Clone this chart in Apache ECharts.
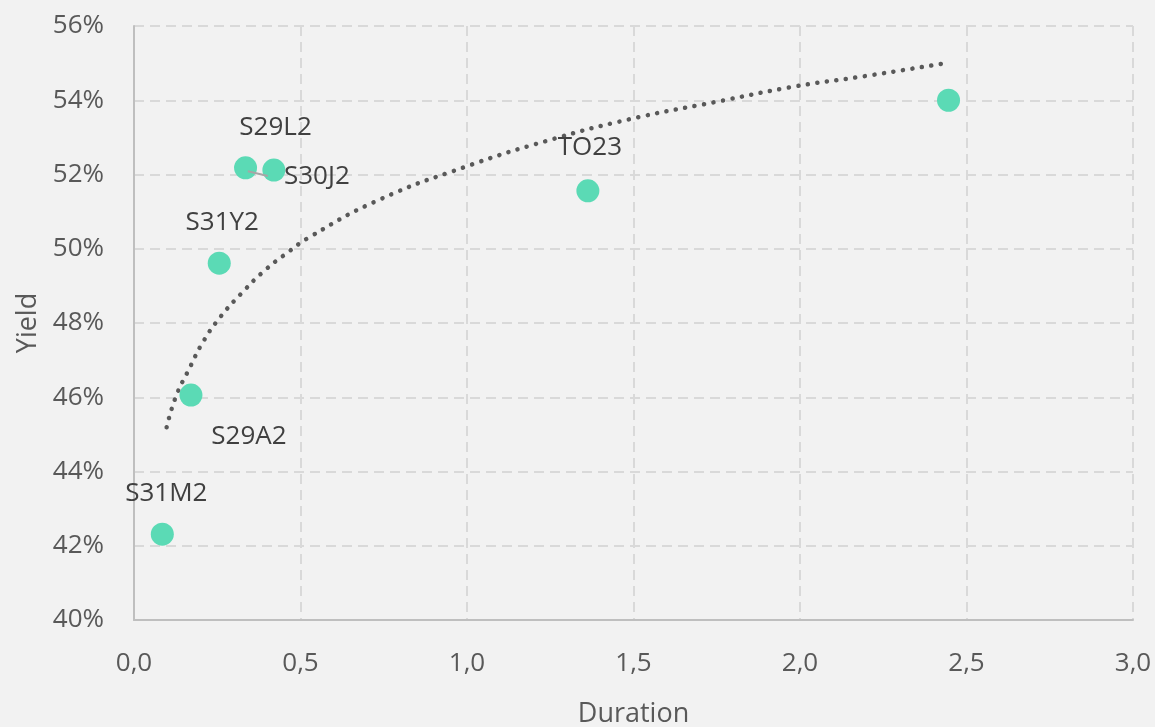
<!DOCTYPE html>
<html>
<head>
<meta charset="utf-8">
<title>Yield vs Duration</title>
<script src="https://cdn.jsdelivr.net/npm/echarts@6/dist/echarts.min.js"></script>
<style>
  html, body { margin: 0; padding: 0; background: #f2f2f2; }
  #chart { width: 1155px; height: 727px; }
</style>
</head>
<body>
<div id="chart"></div>
<script>
// Bond tickers, modified duration (years) and yield (%)
const bondNames = ['S31M2', 'S29A2', 'S31Y2', 'S29L2', 'S30J2', 'TO23', ''];
const durations = [0.085, 0.171, 0.256, 0.335, 0.420, 1.363, 2.446];
const yields    = [42.31, 46.06, 49.61, 52.18, 52.12, 51.56, 54.00];

// Logarithmic trend line, sampled along the duration axis
const trendDurations = [0.098, 0.126, 0.166, 0.208, 0.260, 0.323, 0.388, 0.457, 0.532, 0.734, 0.996, 1.241, 1.489, 1.750, 1.990, 2.195, 2.438];
const trendYields    = [45.19, 46.02, 46.77, 47.50, 48.17, 48.80, 49.38, 49.87, 50.34, 51.31, 52.21, 52.91, 53.49, 53.96, 54.38, 54.65, 55.00];

// Short leader line next to the S29L2 / S30J2 pair
const leaderDurations = [0.342, 0.402];
const leaderYields    = [52.09, 51.96];

// Axis ticks
const xTicks = { min: 0, max: 3, step: 0.5 };
const yTicks = { min: 40, max: 56, step: 2 };

// Label placement (pixel offsets from each marker centre)
const labelOffsets = [[4, -41], [58, 42], [3, -41], [30, -40], [43, 7], [2, -43], [0, 0]];

const FONT = '"Open Sans", "Liberation Sans", sans-serif';
const TEXT = '#595959';

const points = durations.map((d, i) => ({
  value: [d, yields[i]],
  label: {
    show: bondNames[i] !== '',
    formatter: bondNames[i],
    position: 'inside',
    offset: labelOffsets[i]
  }
}));

const chart = echarts.init(document.getElementById('chart'), null, { renderer: 'canvas' });

chart.setOption({
  backgroundColor: '#f2f2f2',
  animation: false,
  textStyle: { fontFamily: FONT },
  grid: { left: 134, right: 22, top: 26, bottom: 107, containLabel: false, outerBoundsMode: 'none' },
  xAxis: {
    type: 'value',
    min: xTicks.min, max: xTicks.max, interval: xTicks.step,
    name: 'Duration',
    nameLocation: 'middle',
    nameGap: 81,
    nameTextStyle: { color: TEXT, fontSize: 27, fontFamily: FONT },
    axisLine: { show: true, lineStyle: { color: '#bfbfbf', width: 2 } },
    axisTick: { show: false },
    axisLabel: {
      color: TEXT, fontSize: 26, fontFamily: FONT, margin: 31,
      formatter: v => v.toFixed(1).replace('.', ',')
    },
    splitLine: { show: true, lineStyle: { color: '#d9d9d9', width: 2, type: [10, 6] } }
  },
  yAxis: {
    type: 'value',
    min: yTicks.min, max: yTicks.max, interval: yTicks.step,
    name: 'Yield',
    nameLocation: 'middle',
    nameGap: 90,
    nameRotate: 90,
    nameTextStyle: { color: TEXT, fontSize: 27, fontFamily: FONT },
    axisLine: { show: true, lineStyle: { color: '#bfbfbf', width: 2 } },
    axisTick: { show: false },
    axisLabel: {
      color: TEXT, fontSize: 26, fontFamily: FONT, margin: 30,
      formatter: v => v + '%'
    },
    splitLine: { show: true, lineStyle: { color: '#d9d9d9', width: 2, type: [10, 6] } }
  },
  series: [
    {
      name: 'Trend',
      type: 'line',
      data: trendDurations.map((d, i) => [d, trendYields[i]]),
      smooth: 0.5,
      symbol: 'none',
      z: 2,
      lineStyle: { color: '#595959', width: 4.5, type: [0.1, 9.5], cap: 'round' }
    },
    {
      name: 'Bonds',
      type: 'scatter',
      data: points,
      symbol: 'circle',
      symbolSize: 23,
      z: 3,
      itemStyle: { color: '#5bdab5', opacity: 1 },
      label: { color: '#404040', fontSize: 26, fontFamily: FONT },
      emphasis: { disabled: true }
    },
    {
      name: 'Leader',
      type: 'line',
      data: leaderDurations.map((d, i) => [d, leaderYields[i]]),
      symbol: 'none',
      z: 4,
      lineStyle: { color: '#a6a6a6', width: 2 }
    }
  ]
});
</script>
</body>
</html>
